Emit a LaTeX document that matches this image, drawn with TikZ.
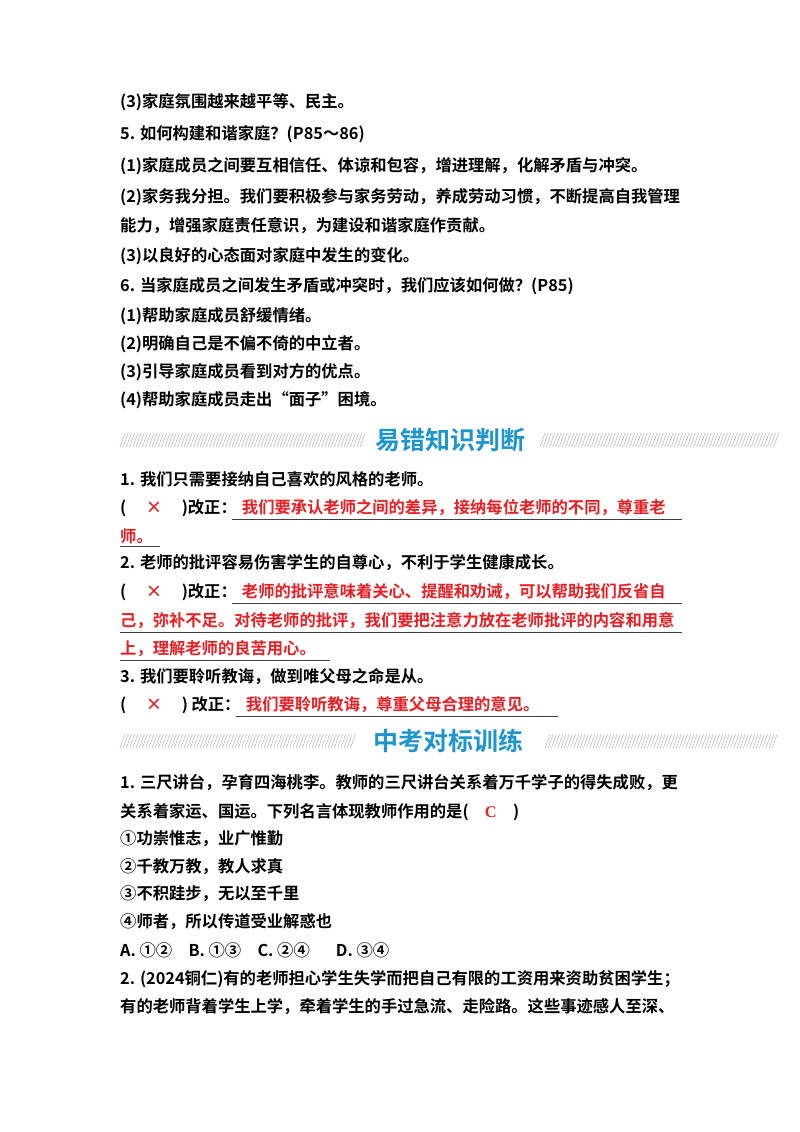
\documentclass[tikz,border=0pt]{standalone}
\usepackage{fontspec}
\newfontfamily\cjk{Noto Sans CJK SC}[BoldFont={Noto Sans CJK SC Bold}]
\setmainfont{Liberation Serif}
\usetikzlibrary{positioning}
\definecolor{redans}{RGB}{235, 30, 35}
\definecolor{titleblue}{RGB}{30, 150, 205}
\definecolor{hatchgray}{RGB}{190, 190, 190}

\begin{document}
\begin{tikzpicture}[x=1pt, y=-1pt,
    txt/.style={anchor=west, inner sep=0pt, font=\cjk\bfseries\fontsize{16.3}{16.3}\selectfont},
    ans/.style={txt, text=redans, align=left},
    uline/.style={draw=black!75, line width=0.9pt},
    title/.style={font=\cjk\bfseries\fontsize{25}{25}\selectfont, text=titleblue, inner sep=0pt},
]
\useasboundingbox[fill=white] (0,0) rectangle (800,1132);

% Upper part
\node[txt] (a1) at (120,102) {(3)家庭氛围越来越平等、民主。};
\node[txt] (a2) at (120,134) {5. 如何构建和谐家庭？(P85～86)};
\node[txt] (a3) at (120,166) {(1)家庭成员之间要互相信任、体谅和包容，增进理解，化解矛盾与冲突。};
\node[txt] (a4) at (120,197) {(2)家务我分担。我们要积极参与家务劳动，养成劳动习惯，不断提高自我管理};
\node[txt] (a5) at (120,226) {能力，增强家庭责任意识，为建设和谐家庭作贡献。};
\node[txt] (a6) at (120,256) {(3)以良好的心态面对家庭中发生的变化。};
\node[txt] (a7) at (120,286) {6. 当家庭成员之间发生矛盾或冲突时，我们应该如何做？(P85)};
\node[txt] (a8) at (120,316) {(1)帮助家庭成员舒缓情绪。};
\node[txt] (a9) at (120,344) {(2)明确自己是不偏不倚的中立者。};
\node[txt] (a10) at (120,372) {(3)引导家庭成员看到对方的优点。};
\node[txt] (a11) at (120,400) {(4)帮助家庭成员走出“面子”困境。};

% Section headers with hatching
\foreach \yy/\xa/\xb/\xc/\xd in {440/120/360/540/775, 741/120/352/545/775}{
  \pgfmathsetmacro{\na}{int((\xb-\xa)/3.2)}
  \pgfmathsetmacro{\nb}{int((\xd-\xc)/3.2)}
  \foreach \i in {0,...,\na}
    \draw[hatchgray, line width=0.6pt] (\xa+\i*3.2,\yy+7) -- (\xa+\i*3.2+5,\yy-7);
  \foreach \i in {0,...,\nb}
    \draw[hatchgray, line width=0.6pt] (\xc+\i*3.2,\yy+7) -- (\xc+\i*3.2+5,\yy-7);
}
\node[title] (h1) at (450,440) {易错知识判断};

% Judgement items
\node[txt] (b1) at (120,479) {1. 我们只需要接纳自己喜欢的风格的老师。};
\node[txt] (b2) at (120,508) {(\hspace{1.2em}{\color{redans}×}\hspace{1.2em})改正：};
\node[ans, text width=450pt] (b2a) at (232,508) {\hspace{0.6em}我们要承认老师之间的差异，接纳每位老师的不同，尊重老};
\node[ans, text width=40pt] (b3) at (120,536) {师。};
\node[txt] (b4) at (120,563) {2. 老师的批评容易伤害学生的自尊心，不利于学生健康成长。};
\node[txt] (b5) at (120,592) {(\hspace{1.2em}{\color{redans}×}\hspace{1.2em})改正：};
\node[ans, text width=450pt] (b5a) at (232,592) {\hspace{0.6em}老师的批评意味着关心、提醒和劝诫，可以帮助我们反省自};
\node[ans, text width=562pt] (b6) at (120,621) {己，弥补不足。对待老师的批评，我们要把注意力放在老师批评的内容和用意};
\node[ans, text width=210pt] (b7) at (120,649) {上，理解老师的良苦用心。};
\node[txt] (b8) at (120,677) {3. 我们要聆听教诲，做到唯父母之命是从。};
\node[txt] (b9) at (120,705) {(\hspace{1.2em}{\color{redans}×}\hspace{1.2em}) 改正：};
\node[ans, text width=322pt] (b9a) at (236,705) {\hspace{0.6em}我们要聆听教诲，尊重父母合理的意见。};
\foreach \n in {b2a,b3,b5a,b6,b7,b9a}
  \draw[uline] ([yshift=-3pt]\n.south west) -- ([yshift=-3pt]\n.south east);

\node[title] (h2) at (448,741) {中考对标训练};

% Exam items
\node[txt] (c1) at (120,783) {1. 三尺讲台，孕育四海桃李。教师的三尺讲台关系着万千学子的得失成败，更};
\node[txt] (c2) at (120,812) {关系着家运、国运。下列名言体现教师作用的是(\hspace{1em}{\color{redans}\rmfamily\bfseries C}\hspace{1em})};
\node[txt] (c3) at (120,839) {①功崇惟志，业广惟勤};
\node[txt] (c4) at (120,867) {②千教万教，教人求真};
\node[txt] (c5) at (120,894) {③不积跬步，无以至千里};
\node[txt] (c6) at (120,922) {④师者，所以传道受业解惑也};
\node[txt] (c7) at (120,950) {A. ①②\hspace{1em}B. ①③\hspace{1em}C. ②④\hspace{1.6em}D. ③④};
\node[txt] (c8) at (120,979) {2. (2024铜仁)有的老师担心学生失学而把自己有限的工资用来资助贫困学生；};
\node[txt] (c9) at (120,1007) {有的老师背着学生上学，牵着学生的手过急流、走险路。这些事迹感人至深、};
\end{tikzpicture}
\end{document}
